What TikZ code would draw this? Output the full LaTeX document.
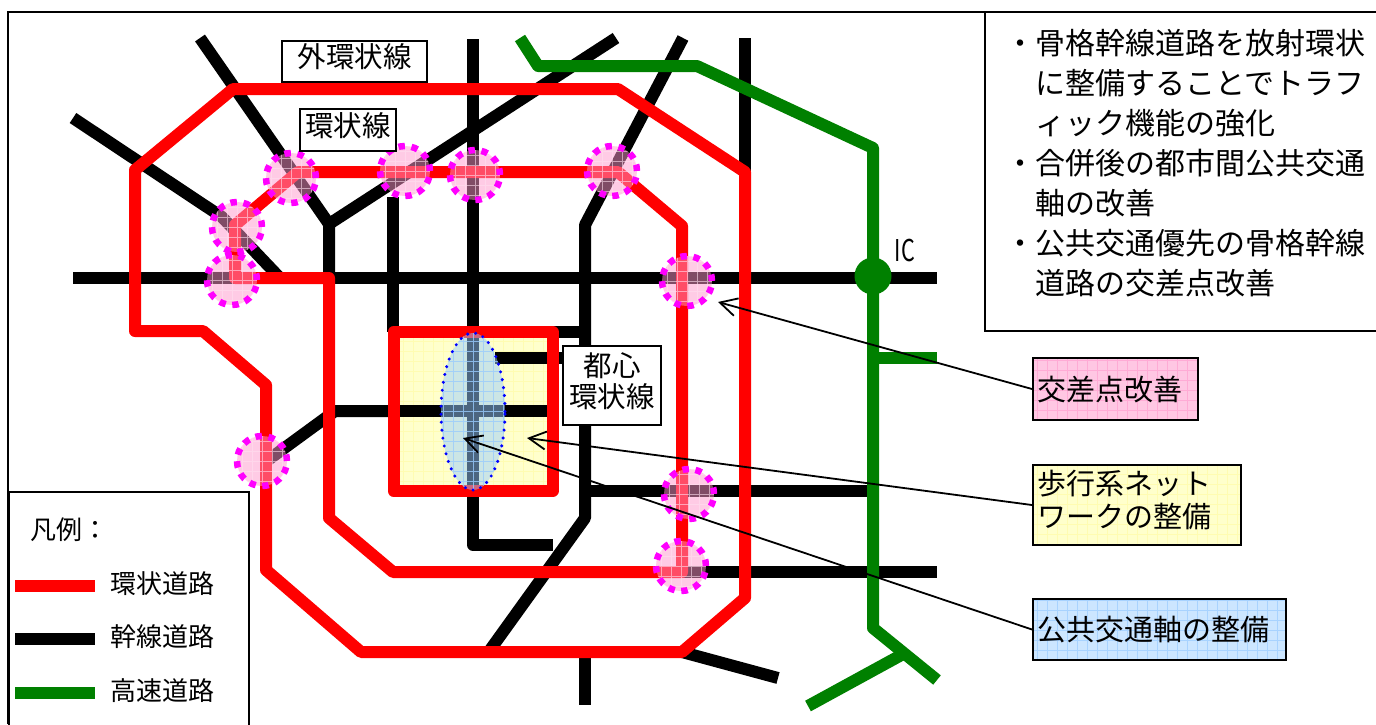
\documentclass[tikz,border=0pt]{standalone}
\usepackage{fontspec}
\setmainfont{Noto Sans CJK JP}
\definecolor{roadred}{RGB}{255,0,0}
\definecolor{roadgreen}{RGB}{0,128,0}
\definecolor{spotpink}{RGB}{255,153,204}
\definecolor{spotedge}{RGB}{255,0,255}
\definecolor{walkyellow}{RGB}{255,255,204}
\definecolor{transblue}{RGB}{153,204,255}
\usepackage{tikz}
\usetikzlibrary{shapes.geometric, arrows.meta, positioning}
\tikzset{
  road/.style={line width=12pt, line join=round},
  redroad/.style={road, roadred},
  blackroad/.style={road, black},
  greenroad/.style={road, roadgreen},
  gridfill/.style={path picture={
      \draw[#1, solid, line cap=butt, line width=0.7pt, step=10pt]
        (path picture bounding box.south west) grid (path picture bounding box.north east);
  }},
  spot/.style={circle, inner sep=0pt, minimum size=50pt, fill=spotpink, fill opacity=0.5,
    gridfill={white!70!spotpink, draw opacity=0.6},
    draw=spotedge, line width=6.5pt, dash pattern=on 6.5pt off 6.6pt},
  transaxis/.style={ellipse, inner sep=0pt, minimum width=64pt, minimum height=157pt,
    fill=transblue, fill opacity=0.5, gridfill={transblue, draw opacity=0.8},
    draw=blue, line width=3.4pt, line cap=round, dash pattern=on 0pt off 8pt},
  namebox/.style={draw=black, fill=white, line width=2pt, inner sep=0pt, align=center,
    text depth=11pt, font=\fontsize{28.5}{38}\selectfont},
  notebox/.style={draw=black, line width=2pt, inner xsep=4pt, inner ysep=0pt, align=left,
    font=\fontsize{29}{33}\selectfont},
  leader/.style={-{Straight Barb[length=17pt,width=18pt]}, line width=1.8pt, black},
  legtext/.style={inner sep=0pt, anchor=west, font=\fontsize{26}{30}\selectfont},
}
\begin{document}
\begin{tikzpicture}[x=1pt, y=-1pt]
  \useasboundingbox (0,0) rectangle (1376,724);
  \fill[white] (0,0) rectangle (1376,724);
  % Frame
  \draw[line width=2pt] (8,724) -- (8,12) -- (1376,12);
  % Arterial roads
  \draw[blackroad] (73,278) -- (937,278);
  \draw[blackroad] (473,39) -- (473,545) -- (553,545);
  \draw[blackroad] (393,197) -- (393,332);
  \draw[blackroad] (200,38) -- (329,224) -- (329,278);
  \draw[blackroad] (329,224) -- (616,38);
  \draw[blackroad] (73,118) -- (222,217) -- (280,278);
  \draw[blackroad] (683,38) -- (585,225) -- (585,518) -- (490,650);
  \draw[blackroad] (745,38) -- (745,172);
  \draw[blackroad] (552,332) -- (585,332);
  \draw[blackroad] (268,460) -- (335,411) -- (393,411);
  \draw[blackroad] (585,491) -- (868,491);
  \draw[blackroad] (682,572) -- (937,572);
  \draw[blackroad] (682,652) -- (778,678);
  \draw[blackroad] (585,652) -- (585,705);
  % Expressway
  \draw[greenroad] (520,38) -- (538,66) -- (697,66) -- (873,148) -- (873,628) -- (937,680);
  \draw[greenroad] (905,653) -- (808,706);
  \draw[greenroad] (873,358) -- (937,358);
  \node[circle, fill=roadgreen, inner sep=0pt, minimum size=37pt] (icpt) at (873,276) {};
  \node[inner sep=0pt, xscale=0.72, font=\fontsize{30}{30}\selectfont] (iclbl) at (905,250) {IC};
  % Walking area and ring roads
  \node[rectangle, fill=walkyellow, inner sep=0pt, minimum width=159pt, minimum height=159pt,
    gridfill={white!60!yellow, draw opacity=0.5}] (walkarea) at (473,411.5) {};
  \draw[blackroad] (393,411) -- (552,411);
  \draw[blackroad] (473,327) -- (473,496);
  \draw[blackroad] (495,358) -- (570,358);
  \draw[redroad] (135,170) -- (233,89) -- (618,89) -- (745,172) -- (745,598) -- (682,652)
    -- (361,652) -- (266,570) -- (266,385) -- (203,331) -- (135,331) -- cycle;
  \draw[redroad] (235,278) -- (329,278) -- (329,518) -- (393,572) -- (682,572) -- (682,226)
    -- (618,172) -- (298,172) -- (235,225) -- cycle;
  \draw[redroad] (393.5,332) rectangle (552.5,491);
  % Improved crossings
  \foreach \n/\x/\y in {a/291/178, b/237/227, c/232/280, d/405/171, e/475/175,
                        f/612/171, g/687/281, h/262/461, i/689/494, j/681/566}
    \node[spot] (spot\n) at (\x,\y) {};
  \node[transaxis] (axis) at (473,411.5) {};
  % Name boxes
  \node[namebox, minimum width=145pt, minimum height=41pt] (outerlbl) at (354.5,61.5) {外環状線};
  \node[namebox, minimum width=96pt, minimum height=42pt] (ringlbl) at (348,130) {環状線};
  \node[namebox, minimum width=98pt, minimum height=79pt] (centerlbl) at (612,385.5) {都心\\[-7pt]環状線};
  % Notes
  \node[draw=black, fill=white, line width=2pt, minimum width=392pt, minimum height=319pt,
    inner sep=0pt] (notepanel) at (1181,171.5) {};
  \node[inner sep=0pt, anchor=north west, align=left, font=\fontsize{30}{40}\selectfont]
    (notetext) at (1005,29) {・骨格幹線道路を放射環状\\
    \hspace{30pt}に整備することでトラフ\\
    \hspace{30pt}ィック機能の強化\\
    ・合併後の都市間公共交通\\
    \hspace{30pt}軸の改善\\
    ・公共交通優先の骨格幹線\\
    \hspace{30pt}道路の交差点改善};
  % Callouts
  \node[notebox, fill=spotpink!55, gridfill={spotpink, draw opacity=0.6}, minimum height=62pt,
    text width=157pt] (crosslbl) at (1115.5,389) {交差点改善};
  \node[notebox, fill=walkyellow, gridfill={white!60!yellow, draw opacity=0.5}, minimum height=80pt,
    text depth=46pt, text width=200pt] (walklbl) at (1137,505) {歩行系ネット\\ワークの整備};
  \node[notebox, fill=transblue!50, gridfill={transblue, draw opacity=0.7}, minimum height=61pt,
    text width=245pt] (translbl) at (1159.5,629.5) {公共交通軸の整備};
  \coordinate (crosstip) at (718,302);
  \coordinate (walktip) at (527,438);
  \coordinate (transtip) at (463,438);
  \draw[leader] (crosslbl.west) -- (crosstip);
  \draw[leader] (walklbl.west) -- (walktip);
  \draw[leader] (translbl.west) -- (transtip);
  % Legend
  \node[draw=black, fill=white, line width=2pt, minimum width=240pt, minimum height=240pt,
    inner sep=0pt, anchor=north west] (legendbox) at (8,491) {};
  \node[legtext] (legtitle) at (30,530) {凡例：};
  \foreach \y/\col/\lbl in {586/roadred/環状道路, 639/black/幹線道路, 693/roadgreen/高速道路} {
    \coordinate (legs\y) at (15,\y);
    \coordinate (lege\y) at (95,\y);
    \draw[\col, line width=12pt] (legs\y) -- (lege\y);
    \node[legtext] (legl\y) at (110,\y-2) {\lbl};
  }
\end{tikzpicture}
\end{document}
